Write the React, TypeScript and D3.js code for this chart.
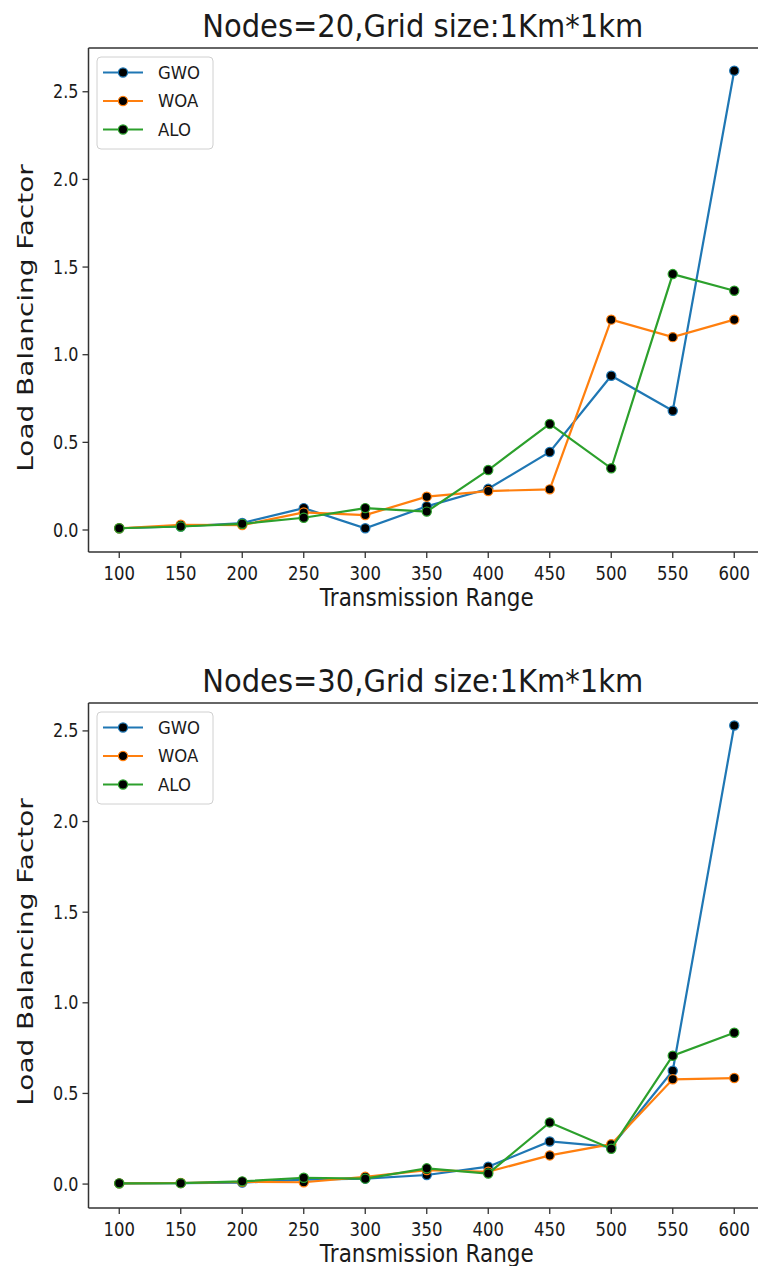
import React, { useEffect } from 'react';
import * as d3 from 'd3';

// transmission range (x axis)
const ranges = [100, 150, 200, 250, 300, 350, 400, 450, 500, 550, 600];
const xTicks = [100, 150, 200, 250, 300, 350, 400, 450, 500, 550, 600];
const yTicks = [0, 0.5, 1.0, 1.5, 2.0, 2.5];

// Nodes = 20
const gwo20 = [0.01, 0.02, 0.04, 0.125, 0.01, 0.135, 0.235, 0.445, 0.88, 0.68, 2.62];
const woa20 = [0.01, 0.03, 0.028, 0.1, 0.085, 0.19, 0.222, 0.232, 1.2, 1.1, 1.2];
const alo20 = [0.01, 0.02, 0.035, 0.07, 0.125, 0.105, 0.342, 0.605, 0.352, 1.46, 1.365];

// Nodes = 30
const gwo30 = [0.004, 0.005, 0.008, 0.025, 0.03, 0.05, 0.096, 0.235, 0.205, 0.625, 2.53];
const woa30 = [0.004, 0.006, 0.012, 0.01, 0.04, 0.077, 0.068, 0.158, 0.22, 0.578, 0.585];
const alo30 = [0.004, 0.005, 0.015, 0.035, 0.03, 0.087, 0.058, 0.34, 0.195, 0.708, 0.835];

const names = ['GWO', 'WOA', 'ALO'];
const colors = ['#1f77b4', '#ff7f0e', '#2ca02c'];

const FONT = 'DejaVu Sans, sans-serif';
const INK = '#1a1a1a';

// text drawn a bit taller than wide, like the stretched original figure
const T = ({ x, y, s = 1.2, rot = 0, size, anchor = 'start', base = 'auto', children }: any) => (
  <g transform={`translate(${x},${y}) scale(1,${s})${rot ? ` rotate(${rot})` : ''}`}>
    <text
      fontFamily={FONT}
      fontSize={size}
      fill={INK}
      textAnchor={anchor}
      dominantBaseline={base}
    >
      {children}
    </text>
  </g>
);

const Panel = ({ title, series, top, bottom, yDomain, labelY }: any) => {
  const left = 88.5;
  const right = 765;
  const x = d3.scaleLinear().domain([75, 625]).range([left, right]);
  const y = d3.scaleLinear().domain(yDomain).range([bottom, top]);
  const line = d3
    .line<number>()
    .x((_, i) => x(ranges[i]))
    .y((d) => y(d));

  return (
    <g>
      <T x={(left + right) / 2 - 4} y={top - 11} size={29} s={1.13} anchor="middle">
        {title}
      </T>

      {/* spines */}
      <line x1={left} x2={left} y1={top} y2={bottom} stroke="#333" strokeWidth={1.5} />
      <line x1={left} x2={right} y1={bottom} y2={bottom} stroke="#333" strokeWidth={1.5} />
      <line x1={left} x2={right} y1={top} y2={top} stroke="#333" strokeWidth={1.5} />

      {/* y axis */}
      {yTicks.map((t) => (
        <g key={t}>
          <line x1={left - 6} x2={left} y1={y(t)} y2={y(t)} stroke="#333" strokeWidth={1.3} />
          <T x={left - 10} y={y(t)} size={16} anchor="end" base="central">
            {d3.format('.1f')(t)}
          </T>
        </g>
      ))}

      {/* x axis */}
      {xTicks.map((t) => (
        <g key={t}>
          <line x1={x(t)} x2={x(t)} y1={bottom} y2={bottom + 6} stroke="#333" strokeWidth={1.3} />
          <T x={x(t)} y={bottom + 28} size={16.5} anchor="middle">
            {t}
          </T>
        </g>
      ))}

      <T x={(left + right) / 2} y={bottom + 54} size={21.5} s={1.15} anchor="middle">
        Transmission Range
      </T>
      <T x={33} y={labelY} size={22} s={1.27} rot={-90} anchor="middle">
        Load Balancing Factor
      </T>

      {/* lines and markers */}
      {series.map((vals: number[], k: number) => (
        <g key={names[k]}>
          <path d={line(vals) || ''} fill="none" stroke={colors[k]} strokeWidth={2.2} />
          {vals.map((v, i) => (
            <circle
              key={i}
              cx={x(ranges[i])}
              cy={y(v)}
              r={4.6}
              fill="#000"
              stroke={colors[k]}
              strokeWidth={1.2}
            />
          ))}
        </g>
      ))}

      {/* legend */}
      <rect
        x={97}
        y={top + 9}
        width={116}
        height={92}
        rx={4}
        fill="#fff"
        fillOpacity={0.85}
        stroke="#d0d0d0"
        strokeWidth={1}
      />
      {names.map((n, k) => {
        const ly = top + 24.5 + k * 28.5;
        return (
          <g key={n}>
            <line x1={103} x2={143} y1={ly} y2={ly} stroke={colors[k]} strokeWidth={2} />
            <circle cx={123} cy={ly} r={4.6} fill="#000" stroke={colors[k]} strokeWidth={1.2} />
            <T x={158} y={ly} size={16.5} s={1.05} base="central">
              {n}
            </T>
          </g>
        );
      })}
    </g>
  );
};

export default function App() {
  useEffect(() => {
    document.body.style.margin = '0';
  }, []);

  return (
    <svg width={758} height={1266} style={{ display: 'block', background: '#fff' }}>
      <Panel
        title="Nodes=20,Grid size:1Km*1km"
        series={[gwo20, woa20, alo20]}
        top={48}
        bottom={552}
        yDomain={[-0.1255, 2.7496]}
        labelY={318}
      />
      <Panel
        title="Nodes=30,Grid size:1Km*1km"
        series={[gwo30, woa30, alo30]}
        top={703}
        bottom={1208}
        yDomain={[-0.132, 2.654]}
        labelY={952}
      />
    </svg>
  );
}
